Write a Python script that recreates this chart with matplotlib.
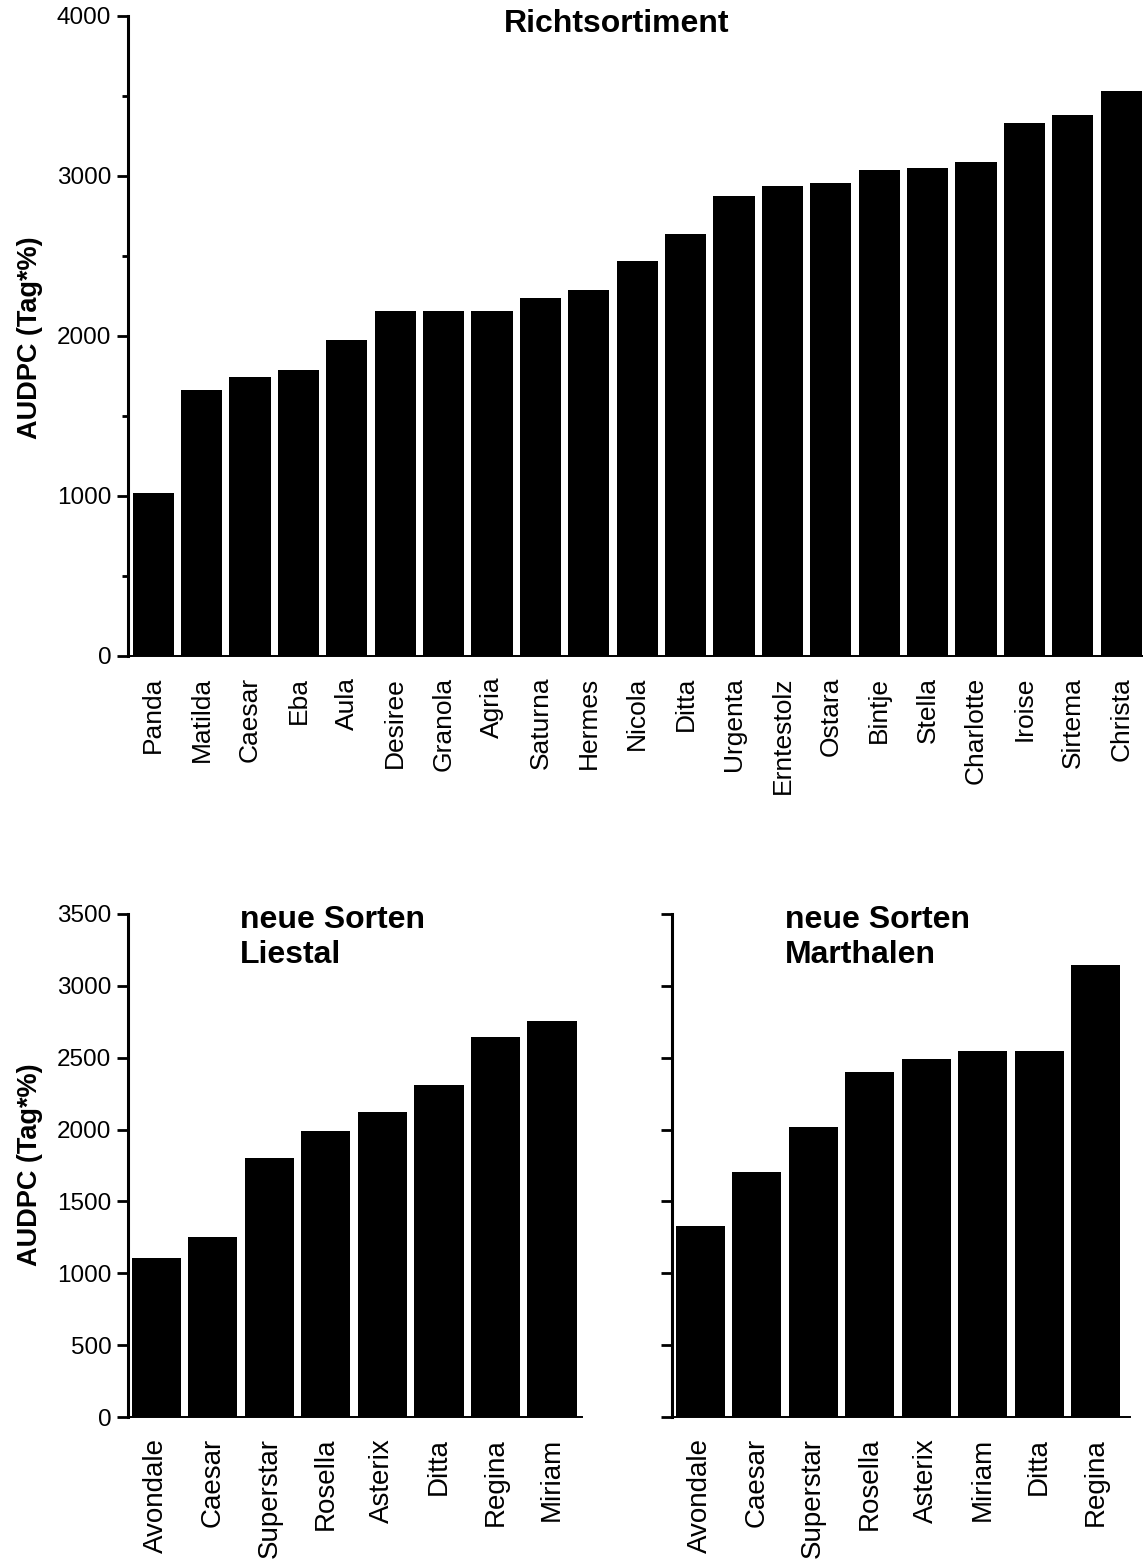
import numpy as np
import matplotlib
matplotlib.use('Agg')
import matplotlib.pyplot as plt

plt.rcParams['font.family'] = ['Liberation Sans', 'DejaVu Sans']

# Richtsortiment
top_names = ['Panda', 'Matilda', 'Caesar', 'Eba', 'Aula', 'Desiree', 'Granola', 'Agria',
             'Saturna', 'Hermes', 'Nicola', 'Ditta', 'Urgenta', 'Erntestolz', 'Ostara',
             'Bintje', 'Stella', 'Charlotte', 'Iroise', 'Sirtema', 'Christa']
top_values = [1020, 1660, 1745, 1790, 1975, 2155, 2155, 2155, 2240, 2290, 2470, 2640,
              2875, 2940, 2955, 3035, 3050, 3085, 3330, 3380, 3530]

# neue Sorten Liestal
liestal_names = ['Avondale', 'Caesar', 'Superstar', 'Rosella', 'Asterix', 'Ditta', 'Regina', 'Miriam']
liestal_values = [1105, 1255, 1800, 1990, 2125, 2310, 2645, 2755]

# neue Sorten Marthalen
marthalen_names = ['Avondale', 'Caesar', 'Superstar', 'Rosella', 'Asterix', 'Miriam', 'Ditta', 'Regina']
marthalen_values = [1330, 1705, 2020, 2400, 2490, 2545, 2545, 3145]

ylabel = 'AUDPC (Tag*%)'

W, H = 1143, 1559
fig = plt.figure(figsize=(W / 100, H / 100), dpi=100)


def px_axes(x0, x1, y_top, y_bot):
    return fig.add_axes([x0 / W, 1 - y_bot / H, (x1 - x0) / W, (y_bot - y_top) / H])


def style(ax, labels, major, minor, xsize, show_labels=True):
    for s in ['top', 'right']:
        ax.spines[s].set_visible(False)
    ax.spines['left'].set_linewidth(2.2)
    ax.spines['bottom'].set_linewidth(1.4)
    ax.set_xticks(np.arange(len(labels)))
    ax.set_xticklabels(labels, rotation=90, fontsize=xsize)
    ax.tick_params(axis='x', length=0, pad=15)
    ax.set_yticks(major)
    ax.set_yticks(minor, minor=True)
    ax.tick_params(axis='y', which='major', length=8, width=2, pad=4, labelsize=17.5)
    ax.tick_params(axis='y', which='minor', length=4, width=2)
    if not show_labels:
        ax.set_yticklabels([])


# top chart
ax1 = px_axes(128, 1143, 16, 656)
ax1.bar(np.arange(len(top_names)), top_values, width=0.85, color='black')
ax1.set_xlim(-0.52, 20.45)
ax1.set_ylim(0, 4000)
style(ax1, top_names, np.arange(0, 4001, 1000), np.arange(500, 4000, 1000), 19)
fig.text(617 / W, 1 - 24 / H, 'Richtsortiment', fontsize=23, fontweight='bold',
         ha='center', va='center')
fig.text(30 / W, 1 - 338 / H, ylabel, fontsize=19.5, fontweight='bold',
         rotation=90, ha='center', va='center')

# bottom left
ax2 = px_axes(128, 582, 914, 1417)
ax2.bar(np.arange(len(liestal_names)), liestal_values, width=0.87, color='black')
ax2.set_xlim(-0.5, 7.53)
ax2.set_ylim(0, 3500)
style(ax2, liestal_names, np.arange(0, 3501, 500), [], 20)
fig.text(240 / W, 1 - 905 / H, 'neue Sorten\nLiestal', fontsize=23, fontweight='bold',
         ha='left', va='top', linespacing=1.2)
fig.text(30 / W, 1 - 1165 / H, ylabel, fontsize=19.5, fontweight='bold',
         rotation=90, ha='center', va='center')

# bottom right
ax3 = px_axes(672, 1130, 914, 1417)
ax3.bar(np.arange(len(marthalen_names)), marthalen_values, width=0.87, color='black')
ax3.set_xlim(-0.5, 7.61)
ax3.set_ylim(0, 3500)
style(ax3, marthalen_names, np.arange(0, 3501, 500), [], 20, show_labels=False)
fig.text(785 / W, 1 - 905 / H, 'neue Sorten\nMarthalen', fontsize=23, fontweight='bold',
         ha='left', va='top', linespacing=1.2)

fig.savefig('out.png', dpi=100)
